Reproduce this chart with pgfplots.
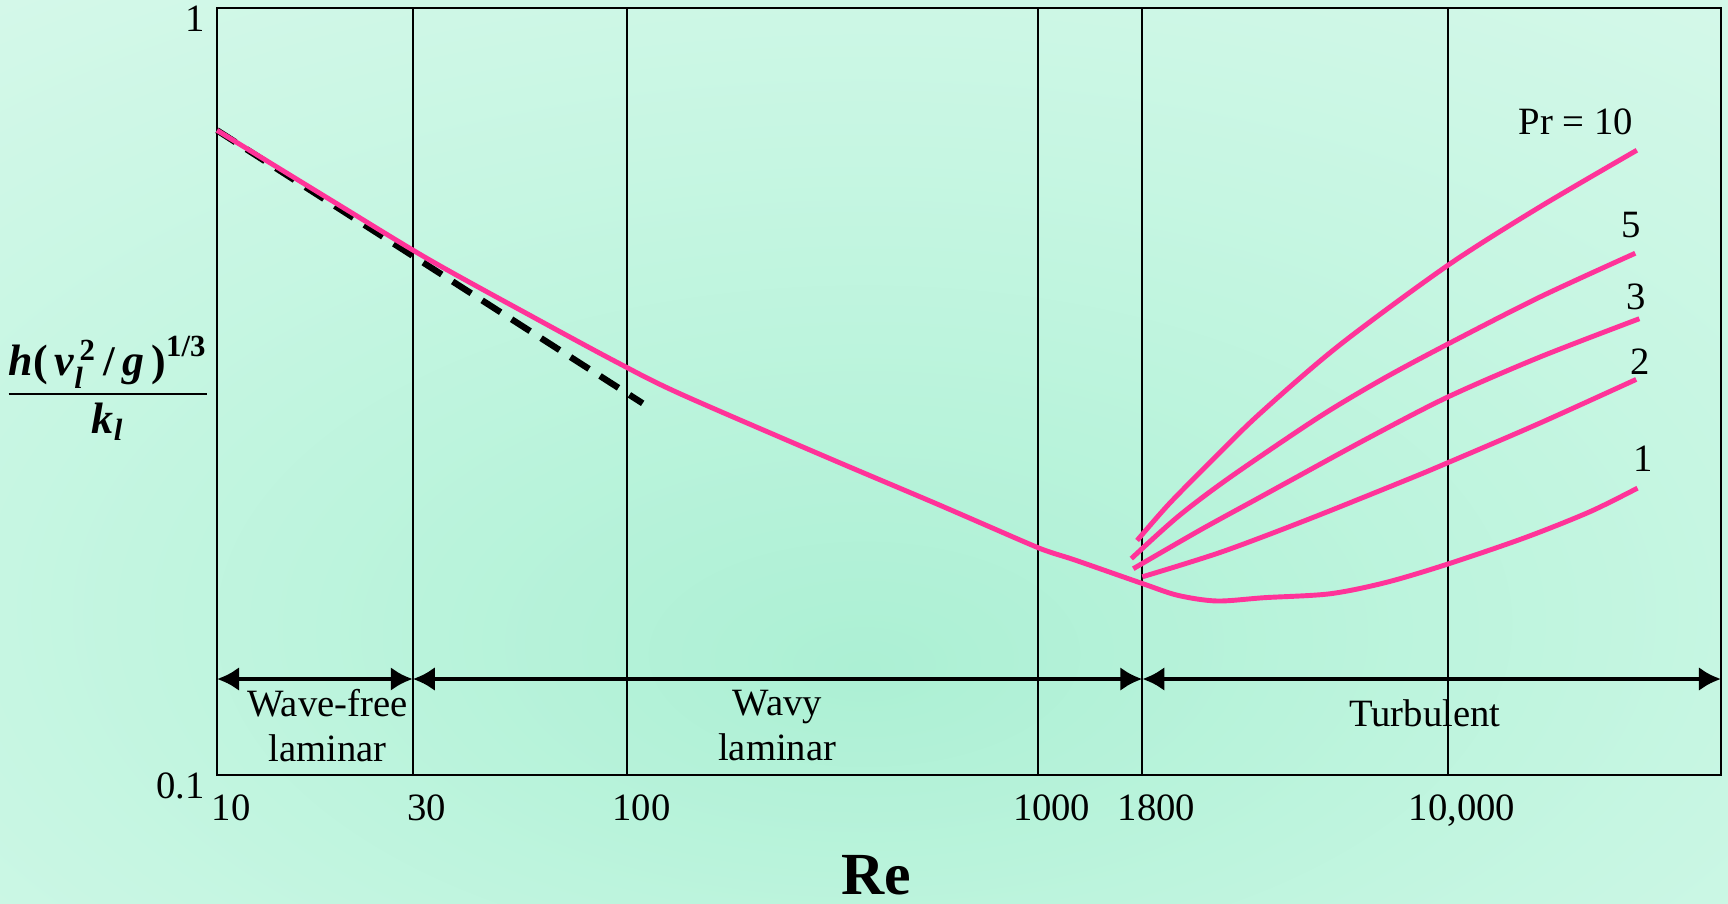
\documentclass[border=0pt]{standalone}
\usepackage{pgfplots}
\pgfplotsset{compat=1.18}
\usepackage{amsmath}
\usepackage{fontspec}
\setmainfont{Liberation Serif}
\usetikzlibrary{arrows.meta}
\definecolor{pinkline}{RGB}{255,51,153}
\definecolor{bgin}{RGB}{172,240,212}
\definecolor{bgmid}{RGB}{198,246,226}
\definecolor{bgout}{RGB}{232,251,243}
\pgfdeclareradialshading{bgshade}{\pgfpoint{0bp}{-12bp}}{color(0bp)=(bgin); color(25bp)=(bgmid); color(62bp)=(bgout); color(90bp)=(bgout)}
\newcommand{\bi}[1]{\text{\bfseries\itshape #1}}
\begin{document}
\begin{tikzpicture}
\shade[shading=bgshade] (-21.7mm,-12.9mm) rectangle (151.1mm,77.5mm);
\begin{axis}[
  at={(0,0)}, anchor=south west, scale only axis,
  width=150.4mm, height=76.7mm,
  xmode=log, ymode=log,
  xmin=10, xmax=46300, ymin=0.1, ymax=1,
  xtick={10,30,100,1000,1800,10000},
  xticklabels={10,30,100,1000,1800,{10,000}},
  ytick={0.1,1}, yticklabels={0.1,1},
  xminorticks=false, yminorticks=false,
  major tick length=0pt,
  xmajorgrids, grid style={black, line width=0.55pt},
  axis line style={black, line width=0.7pt},
  tick label style={font=\fontsize{11}{13}\selectfont, text=black},
  xticklabel style={xshift=4pt, yshift=-2pt},
  yticklabel style={yshift=-3pt},
  clip=false,
]
% dashed laminar asymptote
\addplot[black, line width=1.8pt, dash pattern=on 2.2mm off 1.3mm] coordinates {(10,0.6927) (109,0.3052)};
% main curve continuing as Pr = 1
\addplot[pinkline, line width=1.4pt, smooth] coordinates {
 (10,0.6927) (19.17,0.5597) (32.8,0.4702) (59.0,0.3954) (94.4,0.3452) (134.3,0.3142)
 (305.8,0.2597) (567.5,0.2257) (951.7,0.2002) (1071.7,0.1953) (1239.5,0.1905) (1800,0.1777)
 (2197.6,0.1715) (2736,0.1686) (3577,0.1703) (5154,0.1723) (7074,0.1783) (10000,0.1884)
 (15411,0.2039) (22182,0.2204) (28983,0.2366)};
% Pr = 2
\addplot[pinkline, line width=1.4pt, smooth] coordinates {
 (1800,0.1813) (2803,0.1953) (4563,0.2154) (7990,0.2429) (10000,0.2554) (16756,0.2876) (28766,0.3279)};
% Pr = 3
\addplot[pinkline, line width=1.4pt, smooth] coordinates {
 (1711,0.1858) (2481,0.2084) (3381,0.2282) (4140,0.2422) (6412,0.2752) (10000,0.3111) (16756,0.3507) (29286,0.3935)};
% Pr = 5
\addplot[pinkline, line width=1.4pt, smooth] coordinates {
 (1692,0.1915) (2198,0.2172) (2944,0.2444) (4853,0.2929) (6955,0.3286) (10000,0.3647) (16756,0.4199) (28621,0.4789)};
% Pr = 10
\addplot[pinkline, line width=1.4pt, smooth] coordinates {
 (1748,0.2022) (2092,0.2257) (2638,0.2559) (3459,0.2950) (5429,0.3631) (10000,0.4619) (16756,0.5504) (28876,0.6525)};
% regime arrows
\draw[{Latex[length=2.2mm,width=2.4mm]}-{Latex[length=2.2mm,width=2.4mm]}, line width=1.4pt] (axis cs:10,0.1334) -- (axis cs:30,0.1334);
\draw[{Latex[length=2.2mm,width=2.4mm]}-{Latex[length=2.2mm,width=2.4mm]}, line width=1.4pt] (axis cs:30,0.1334) -- (axis cs:1800,0.1334);
\draw[{Latex[length=2.2mm,width=2.4mm]}-{Latex[length=2.2mm,width=2.4mm]}, line width=1.4pt] (axis cs:1800,0.1334) -- (axis cs:46300,0.1334);
\node[align=center, font=\fontsize{11}{12.8}\selectfont] at (axis cs:18.6,0.1159) {Wave-free\\laminar};
\node[align=center, font=\fontsize{11}{12.8}\selectfont] at (axis cs:232,0.1159) {Wavy\\laminar};
\node[font=\fontsize{11}{12.8}\selectfont] at (axis cs:8790,0.1203) {Turbulent};
% Pr labels
\node[font=\fontsize{11}{13}\selectfont] at (axis cs:20500,0.7101) {Pr = 10};
\node[font=\fontsize{11}{13}\selectfont] at (axis cs:27990,0.5211) {5};
\node[font=\fontsize{11}{13}\selectfont] at (axis cs:28730,0.4200) {3};
\node[font=\fontsize{11}{13}\selectfont] at (axis cs:29400,0.3455) {2};
\node[font=\fontsize{11}{13}\selectfont] at (axis cs:29890,0.2585) {1};
\end{axis}
\node[font=\fontsize{12.5}{15}\selectfont] at (-10.9mm,38.7mm)
  {$\dfrac{\bi{h}\textbf{(}\,\bi{v}_{\bi{l}}^{\,\textbf{2}}\,\text{\bfseries\large /}\,\bi{g}\,\textbf{)}^{\textbf{1/3}}}{\bi{k}_{\bi{l}}}$};
\node[font=\bfseries\fontsize{17}{20}\selectfont] at (65.9mm,-10.0mm) {Re};
\pgfresetboundingbox
\useasboundingbox (-21.7mm,-12.9mm) rectangle (151.1mm,77.5mm);
\end{tikzpicture}
\end{document}
